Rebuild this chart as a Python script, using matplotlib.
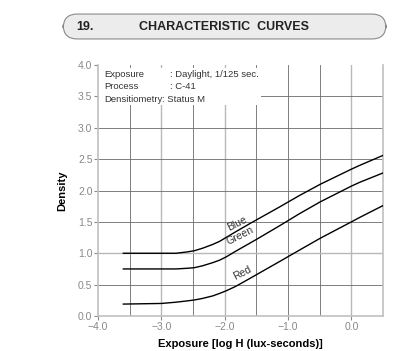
import matplotlib.pyplot as plt
from matplotlib.patches import FancyBboxPatch, Rectangle

plt.rcParams["font.family"] = ["Liberation Sans", "DejaVu Sans"]

# Characteristic curves (log H, density)
blue_x = [-3.6, -3.0, -2.77, -2.6, -2.48, -2.35, -2.19, -2.08, -1.98, -1.83, -1.59, -1.13, -0.82, -0.49, 0.0, 0.13, 0.5]
blue_y = [1.0, 1.0, 1.0, 1.02, 1.04, 1.08, 1.14, 1.19, 1.25, 1.34, 1.48, 1.74, 1.92, 2.10, 2.34, 2.40, 2.56]

green_x = [-3.6, -3.0, -2.77, -2.6, -2.48, -2.35, -2.19, -2.08, -1.98, -1.83, -1.5, -1.13, -0.82, -0.49, 0.0, 0.13, 0.5]
green_y = [0.75, 0.75, 0.75, 0.76, 0.77, 0.80, 0.85, 0.89, 0.94, 1.03, 1.22, 1.44, 1.63, 1.82, 2.07, 2.13, 2.28]

red_x = [-3.6, -3.0, -2.77, -2.6, -2.48, -2.35, -2.19, -2.08, -1.98, -1.83, -1.67, -1.13, -0.82, -0.49, 0.0, 0.13, 0.5]
red_y = [0.19, 0.2, 0.22, 0.24, 0.255, 0.28, 0.32, 0.36, 0.40, 0.47, 0.56, 0.87, 1.05, 1.24, 1.50, 1.57, 1.76]

curve_labels = ["Blue", "Green", "Red"]
label_pos = [(-1.8, 1.47), (-1.75, 1.28), (-1.72, 0.69)]

x_ticks = [-4.0, -3.0, -2.0, -1.0, 0.0]
y_ticks = [0.0, 0.5, 1.0, 1.5, 2.0, 2.5, 3.0, 3.5, 4.0]

info_keys = ["Exposure", "Process"]
info_vals = [": Daylight, 1/125 sec.", ": C-41"]

fig = plt.figure(figsize=(4.0, 3.51), dpi=100)
fig.patch.set_facecolor("white")

# header bar
hdr = FancyBboxPatch((0.158, 0.889), 0.807, 0.071, boxstyle="round,pad=0,rounding_size=0.035",
                     transform=fig.transFigure, facecolor="#ececec", edgecolor="#8a8a8a",
                     linewidth=0.8, mutation_aspect=1.14)
fig.patches.append(hdr)
fig.text(0.19, 0.924, "19.", fontsize=9, fontweight="bold", color="#222", va="center")
fig.text(0.56, 0.924, "CHARACTERISTIC  CURVES", fontsize=9, fontweight="bold",
         color="#222", va="center", ha="center")

ax = fig.add_axes([0.245, 0.0997, 0.7125, 0.715])
ax.set_xlim(-4.0, 0.5)
ax.set_ylim(0.0, 4.0)

# grid
for gx in [-3.5, -3.0, -2.5, -2.0, -1.5, -1.0, -0.5, 0.0]:
    light = gx in (-3.0, -2.0, 0.0)
    ax.axvline(gx, color="#b8b8b8" if light else "#6a6a6a", lw=1.0 if light else 0.6, zorder=1)
for gy in [0.5, 1.0, 1.5, 2.0, 2.5, 3.0, 3.5]:
    light = gy == 1.0
    ax.axhline(gy, color="#b8b8b8" if light else "#6a6a6a", lw=1.0 if light else 0.6, zorder=1)

# white panel behind the info text
ax.add_patch(Rectangle((-3.98, 3.36), 2.56, 0.60, facecolor="white", edgecolor="none", zorder=2))

for xs, ys in [(blue_x, blue_y), (green_x, green_y), (red_x, red_y)]:
    ax.plot(xs, ys, color="black", lw=1.0, zorder=3, solid_joinstyle="round")

for name, (lx, ly) in zip(curve_labels, label_pos):
    ax.text(lx, ly, name, fontsize=7.5, color="#333", rotation=27,
            ha="center", va="center", zorder=4)

# info block
for i, (k, v) in enumerate(zip(info_keys, info_vals)):
    yy = 3.85 - i * 0.2
    ax.text(-3.9, yy, k, fontsize=6.8, color="#333", va="center", zorder=4)
    ax.text(-2.86, yy, v, fontsize=6.8, color="#333", va="center", zorder=4)
ax.text(-3.9, 3.45, "Densitiometry", fontsize=6.8, color="#333", va="center", zorder=4)
ax.text(-2.99, 3.45, ": Status M", fontsize=6.8, color="#333", va="center", zorder=4)

ax.set_xticks(x_ticks)
ax.set_xticklabels([f"{t:.1f}".replace("-", "\u2212") for t in x_ticks])
ax.set_yticks(y_ticks)
ax.set_yticklabels([f"{t:.1f}" for t in y_ticks])
ax.tick_params(labelsize=7.5, colors="#888", length=3, width=0.8, pad=1)

for side in ["left", "bottom", "right"]:
    ax.spines[side].set_color("#c0c0c0")
    ax.spines[side].set_linewidth(1.2)
ax.spines["top"].set_visible(False)

ax.set_xlabel("Exposure [log H (lux-seconds)]", fontsize=8, fontweight="bold", labelpad=5)
ax.set_ylabel("Density", fontsize=8, fontweight="bold", labelpad=8)

fig.savefig("out.png", dpi=100, facecolor="white")
